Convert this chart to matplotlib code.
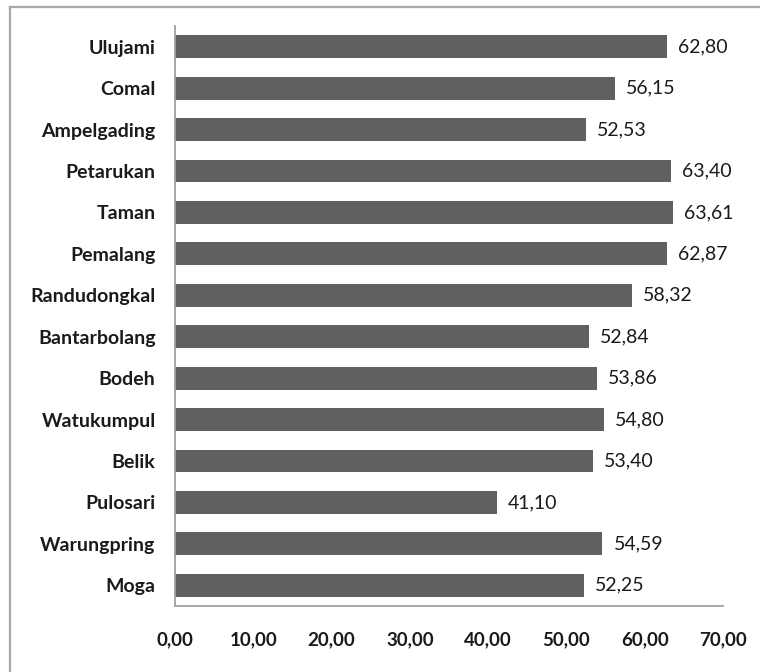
import matplotlib
matplotlib.use("Agg")
import matplotlib.pyplot as plt
from matplotlib.lines import Line2D

categories = ["Ulujami", "Comal", "Ampelgading", "Petarukan", "Taman", "Pemalang",
              "Randudongkal", "Bantarbolang", "Bodeh", "Watukumpul", "Belik",
              "Pulosari", "Warungpring", "Moga"]
values = [62.80, 56.15, 52.53, 63.40, 63.61, 62.87, 58.32, 52.84, 53.86, 54.80,
          53.40, 41.10, 54.59, 52.25]
x_ticks = [0, 10, 20, 30, 40, 50, 60, 70]

def fmt(v):
    return f"{v:.2f}".replace(".", ",")

plt.rcParams["font.family"] = ["Lato", "DejaVu Sans"]

fig = plt.figure(figsize=(7.6, 6.72), dpi=100)
ax = fig.add_axes([0.2303, 0.0982, 0.721, 0.8631])

ypos = list(range(len(categories)))
ax.barh(ypos, values, height=0.55, color="#606060", edgecolor="none")

for y, v in zip(ypos, values):
    ax.annotate(fmt(v), (v, y), xytext=(8, 0), textcoords="offset points",
                va="center", ha="left", fontsize=14, color="#1a1a1a")

ax.set_xlim(0, 70)
ax.set_ylim(len(categories) - 0.5, -0.5)
ax.set_yticks(ypos)
ax.set_yticklabels(categories, fontsize=14, fontweight="bold", color="#1a1a1a")
ax.set_xticks(x_ticks)
ax.set_xticklabels([fmt(t) for t in x_ticks], fontsize=13.5, fontweight="bold",
                   color="#1a1a1a")
ax.tick_params(axis="y", length=0, pad=14)
ax.tick_params(axis="x", length=0, pad=18)

for side in ("top", "right"):
    ax.spines[side].set_visible(False)
for side in ("left", "bottom"):
    ax.spines[side].set_color("#a0a0a0")
    ax.spines[side].set_linewidth(1.3)

# outer frame (top and left edges)
fig.add_artist(Line2D([10 / 760, 10 / 760], [0, 1 - 7 / 672], transform=fig.transFigure,
                      color="#a8a8a8", lw=1.6))
fig.add_artist(Line2D([10 / 760, 1], [1 - 7 / 672, 1 - 7 / 672], transform=fig.transFigure,
                      color="#a8a8a8", lw=1.6))

fig.savefig("out.png", dpi=100, facecolor="white")
